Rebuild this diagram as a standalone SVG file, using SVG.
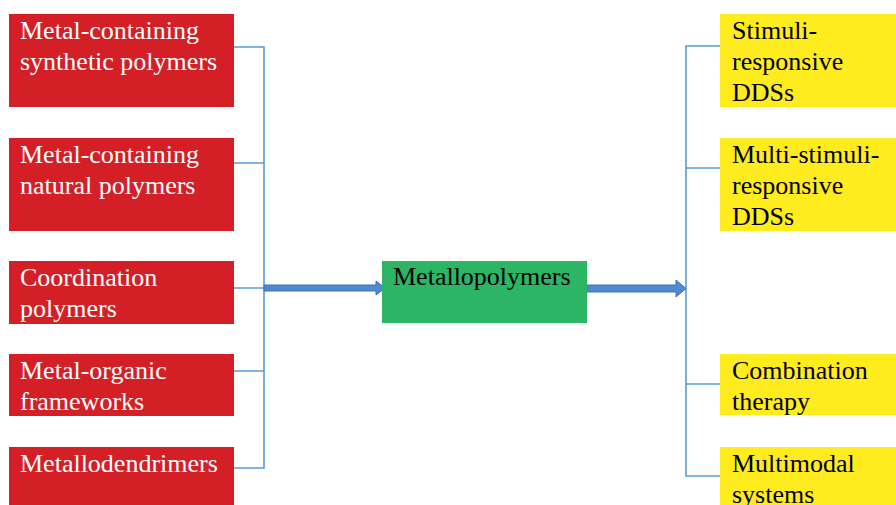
<svg xmlns="http://www.w3.org/2000/svg" width="896" height="505" viewBox="0 0 896 505">
<style>
.red{fill:#D41F27}
.yel{fill:#FFEC1F}
.grn{fill:#2CB564}
.t{font-family:"Liberation Serif","Times New Roman",serif;font-size:26px}
.w{fill:#FFFFFF}
.k{fill:#000000}
.ln{stroke:#5B9BD5;stroke-width:1.6;fill:none}
.arr{fill:#4F8AD0;stroke:#3F72B5;stroke-width:1}
</style>
<rect width="896" height="505" fill="#FFFFFF"/>
<g id="connectors">
<path class="ln" d="M234 47H264V468H234M234 163H264M234 288H264M234 371H264"/>
<path class="ln" d="M720 46H686V476H720M686 168H720M686 384H720"/>
<path class="arr" d="M264 285H376V281L385 288L376 295V291H264Z"/>
<path class="arr" d="M587 285H676V280L686 288.5L676 297V292H587Z"/>
</g>
<g id="n1"><rect class="red" x="9" y="14" width="225" height="93"/><text class="t w" x="20" y="39">Metal-containing</text><text class="t w" x="20" y="70">synthetic polymers</text></g>
<g id="n2"><rect class="red" x="9" y="138" width="225" height="93"/><text class="t w" x="20" y="163">Metal-containing</text><text class="t w" x="20" y="194">natural polymers</text></g>
<g id="n3"><rect class="red" x="9" y="261" width="225" height="63"/><text class="t w" x="20" y="286">Coordination</text><text class="t w" x="20" y="317">polymers</text></g>
<g id="n4"><rect class="red" x="9" y="354" width="225" height="62"/><text class="t w" x="20" y="379">Metal-organic</text><text class="t w" x="20" y="410">frameworks</text></g>
<g id="n5"><rect class="red" x="9" y="447" width="225" height="58"/><text class="t w" x="20" y="472">Metallodendrimers</text></g>
<g id="center"><rect class="grn" x="382" y="261" width="205" height="62"/><text class="t k" x="393" y="285">Metallopolymers</text></g>
<g id="r1"><rect class="yel" x="720" y="14" width="176" height="93"/><text class="t k" x="732" y="39">Stimuli-</text><text class="t k" x="732" y="70">responsive</text><text class="t k" x="732" y="101">DDSs</text></g>
<g id="r2"><rect class="yel" x="720" y="138" width="176" height="93"/><text class="t k" x="732" y="163">Multi-stimuli-</text><text class="t k" x="732" y="194">responsive</text><text class="t k" x="732" y="225">DDSs</text></g>
<g id="r3"><rect class="yel" x="720" y="354" width="176" height="61"/><text class="t k" x="732" y="379">Combination</text><text class="t k" x="732" y="410">therapy</text></g>
<g id="r4"><rect class="yel" x="720" y="447" width="176" height="58"/><text class="t k" x="732" y="472">Multimodal</text><text class="t k" x="732" y="503">systems</text></g>
</svg>
